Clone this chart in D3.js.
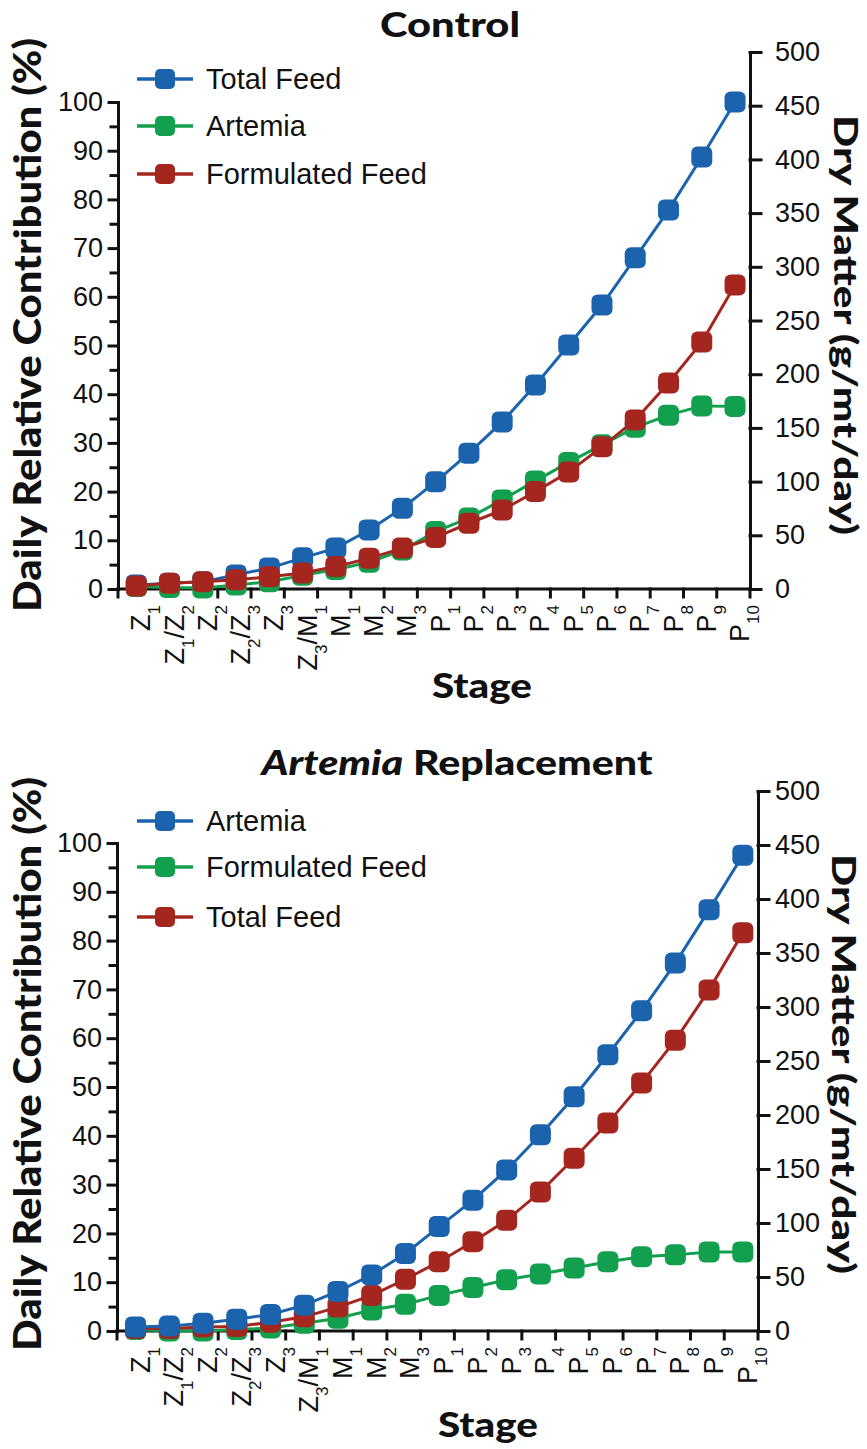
<!DOCTYPE html>
<html>
<head>
<meta charset="utf-8">
<script src="https://cdn.jsdelivr.net/npm/d3@7"></script>
<style>
body { margin: 0; background: #fff; }
svg text { font-family: "Liberation Sans", Arial, Helvetica, sans-serif; fill: #111; }
svg text.ttl { font-family: Lato, "Open Sans", sans-serif; font-weight: 900; }
.axis path, .axis line, .xline { stroke: #111; stroke-width: 3; stroke-linecap: square; }
</style>
</head>
<body>
<div id="chart"></div>
<script>
// stage names, "_n" = subscript
var stages = ['Z_1', 'Z_1/Z_2', 'Z_2', 'Z_2/Z_3', 'Z_3', 'Z_3/M_1', 'M_1', 'M_2', 'M_3',
  'P_1', 'P_2', 'P_3', 'P_4', 'P_5', 'P_6', 'P_7', 'P_8', 'P_9', 'P_10']

var leftTicks = [0, 10, 20, 30, 40, 50, 60, 70, 80, 90, 100]
var leftMinor = [5, 15, 25, 35, 45, 55, 65, 75, 85, 95]
var rightTicks = [0, 50, 100, 150, 200, 250, 300, 350, 400, 450, 500]

// Control (daily relative contribution, %)
var ctrlTotal = [0.8, 1.2, 1.5, 2.9, 4.3, 6.4, 8.4, 12.1, 16.6, 22.0, 27.9, 34.3, 41.9, 50.1, 58.3, 68.0, 77.8, 88.7, 100]
var ctrlArtemia = [0.5, 0.3, 0.2, 0.8, 1.5, 2.8, 4.0, 5.5, 8.0, 11.8, 14.6, 18.3, 22.2, 26.0, 29.6, 33.2, 35.7, 37.6, 37.5]
var ctrlFormulated = [0.6, 1.2, 1.5, 1.9, 2.5, 3.3, 4.6, 6.3, 8.4, 10.6, 13.5, 16.2, 20.0, 24.0, 29.2, 34.7, 42.3, 50.7, 62.4]

// Artemia replacement (%)
var repArtemia = [0.8, 1.0, 1.6, 2.4, 3.4, 5.3, 8.1, 11.5, 15.9, 21.4, 26.8, 33.0, 40.2, 48.0, 56.6, 65.6, 75.4, 86.3, 97.5]
var repFormulated = [0.3, 0.0, 0.0, 0.3, 0.6, 1.6, 2.6, 4.3, 5.5, 7.3, 8.9, 10.5, 11.7, 12.9, 14.2, 15.2, 15.6, 16.2, 16.2]
var repTotal = [0.5, 0.5, 0.8, 0.9, 1.8, 2.9, 4.9, 7.3, 10.6, 14.2, 18.3, 22.7, 28.5, 35.4, 42.6, 50.8, 59.6, 69.9, 81.6]

var blue = '#1b63ad', green = '#12a04e', red = '#a5261f'

var panels = [
  {
    title: [['Control', 'normal']], titleX: 450, titleY: 37, titleLen: 140,
    left: 118, right: 750, y0: 589, y100: 102, y500: 52,
    series: [
      {name: 'Total Feed', values: ctrlTotal, color: blue},
      {name: 'Artemia', values: ctrlArtemia, color: green},
      {name: 'Formulated Feed', values: ctrlFormulated, color: red}
    ],
    order: [0, 1, 2], legendY: [79, 126, 174],
    yTitleY: 325, rTitleX: 834, stageX: 482, stageY: 698
  },
  {
    title: [['Artemia', 'italic'], [' Replacement', 'normal']], titleX: 457, titleY: 775, titleLen: 391,
    left: 117, right: 758, y0: 1331, y100: 843, y500: 791,
    series: [
      {name: 'Artemia', values: repArtemia, color: blue},
      {name: 'Formulated Feed', values: repFormulated, color: green},
      {name: 'Total Feed', values: repTotal, color: red}
    ],
    order: [1, 2, 0], legendY: [821, 867, 917],
    yTitleY: 1064, rTitleX: 832, stageX: 488, stageY: 1437
  }
]

var svg = d3.select('#chart').append('svg').attr('width', 867).attr('height', 1449)

panels.forEach(drawPanel)

function drawPanel(p) {
  var g = svg.append('g')
  var x = d3.scaleBand().domain(stages).range([p.left, p.right])
  var px = function(i) { return x(stages[i]) + x.bandwidth() * 0.55 }
  var yL = d3.scaleLinear().domain([0, 100]).range([p.y0, p.y100])
  var yR = d3.scaleLinear().domain([0, 500]).range([p.y0, p.y500])

  // title
  var t = g.append('text').attr('class', 'ttl')
    .attr('x', p.titleX).attr('y', p.titleY)
    .attr('text-anchor', 'middle').attr('font-size', 34)
    .attr('textLength', p.titleLen).attr('lengthAdjust', 'spacingAndGlyphs')
  p.title.forEach(function(d) { t.append('tspan').attr('font-style', d[1]).text(d[0]) })

  // left axis
  g.append('g').attr('class', 'axis').attr('transform', 'translate(' + p.left + ',0)')
    .call(d3.axisLeft(yL).tickValues(leftTicks).tickSize(9).tickSizeOuter(0).tickPadding(6))
    .attr('font-size', 27)
  g.append('g').attr('class', 'axis').attr('transform', 'translate(' + p.left + ',0)')
    .call(d3.axisLeft(yL).tickValues(leftMinor).tickSize(7).tickFormat(''))
    .select('.domain').remove()

  // right axis, labels start at x = 775
  g.append('g').attr('class', 'axis').attr('transform', 'translate(' + p.right + ',0)')
    .call(d3.axisRight(yR).tickValues(rightTicks).tickSize(11).tickSizeOuter(0).tickPadding(775 - p.right - 11))
    .attr('font-size', 27)

  // x axis
  g.append('line').attr('class', 'xline')
    .attr('x1', p.left).attr('x2', p.right).attr('y1', p.y0).attr('y2', p.y0)
  var tickIdx = [0].concat(d3.range(3, stages.length + 1))
  g.selectAll('.xtick').data(tickIdx).join('line').attr('class', 'xline')
    .attr('x1', function(k) { return k < stages.length ? x(stages[k]) : p.right })
    .attr('x2', function(k) { return k < stages.length ? x(stages[k]) : p.right })
    .attr('y1', p.y0).attr('y2', p.y0 + 8)

  // stage labels, rotated, with subscripts
  stages.forEach(function(s, i) {
    var lab = g.append('text').attr('text-anchor', 'end').attr('font-size', 27)
      .attr('transform', 'translate(' + (px(i) + 14) + ',' + (p.y0 + 16) + ') rotate(-90)')
    var low = false
    s.split(/(_\d+)/).forEach(function(part) {
      if (!part) return
      if (part[0] == '_') {
        lab.append('tspan').attr('font-size', 17).attr('dy', 10).text(part.slice(1))
        low = true
      } else {
        lab.append('tspan').attr('dy', low ? -10 : 0).text(part)
        low = false
      }
    })
  })

  // axis titles
  g.append('text').attr('class', 'ttl').attr('text-anchor', 'middle').attr('font-size', 38)
    .attr('transform', 'translate(41,' + p.yTitleY + ') rotate(-90)')
    .attr('textLength', 574).attr('lengthAdjust', 'spacingAndGlyphs')
    .text('Daily Relative Contribution (%)')
  g.append('text').attr('class', 'ttl').attr('text-anchor', 'middle').attr('font-size', 32)
    .attr('transform', 'translate(' + p.rTitleX + ',' + p.yTitleY + ') rotate(90)')
    .attr('textLength', 420).attr('lengthAdjust', 'spacingAndGlyphs')
    .text('Dry Matter (g/mt/day)')
  g.append('text').attr('class', 'ttl').attr('text-anchor', 'middle').attr('font-size', 34)
    .attr('x', p.stageX).attr('y', p.stageY)
    .attr('textLength', 100).attr('lengthAdjust', 'spacingAndGlyphs')
    .text('Stage')

  // series
  var line = d3.line().x(function(d, i) { return px(i) }).y(function(d) { return yL(d) })
  p.order.forEach(function(k) {
    var s = p.series[k]
    g.append('path').attr('d', line(s.values))
      .attr('fill', 'none').attr('stroke', s.color).attr('stroke-width', 3)
    g.selectAll(null).data(s.values).join('rect')
      .attr('x', function(d, i) { return px(i) - 10.5 })
      .attr('y', function(d) { return yL(d) - 10.5 })
      .attr('width', 21).attr('height', 21).attr('rx', 6)
      .attr('fill', s.color)
  })

  // legend
  p.series.forEach(function(s, i) {
    var ly = p.legendY[i]
    g.append('line').attr('x1', 137).attr('x2', 193).attr('y1', ly).attr('y2', ly)
      .attr('stroke', s.color).attr('stroke-width', 3.5)
    g.append('rect').attr('x', 155).attr('y', ly - 10).attr('width', 20).attr('height', 20)
      .attr('rx', 5).attr('fill', s.color)
    g.append('text').attr('x', 206).attr('y', ly + 10).attr('font-size', 29).text(s.name)
  })
}
</script>
</body>
</html>
